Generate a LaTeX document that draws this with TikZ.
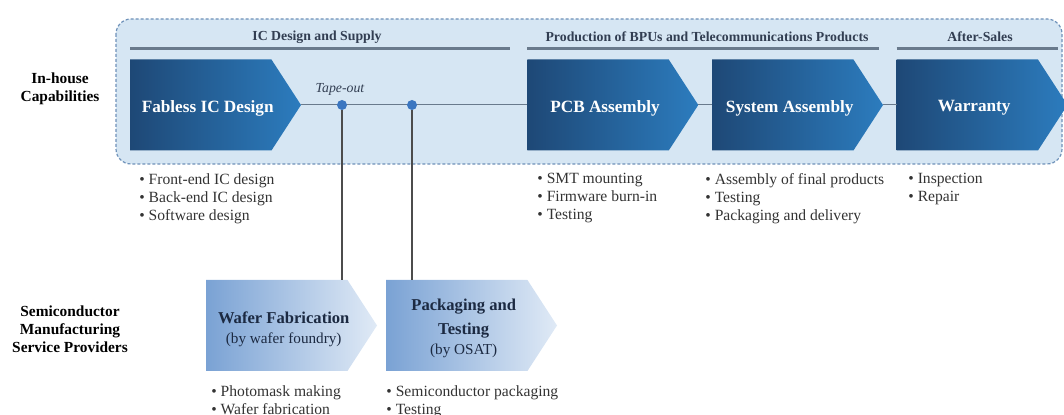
\documentclass[tikz,border=0pt]{standalone}
\usepackage{fontspec}
\setmainfont{Liberation Serif}
\usetikzlibrary{shapes.symbols}
\definecolor{boxfill}{RGB}{214,230,243}
\definecolor{boxline}{RGB}{110,145,185}
\definecolor{navyL}{RGB}{30,72,118}
\definecolor{navyR}{RGB}{44,124,190}
\definecolor{paleL}{RGB}{122,162,212}
\definecolor{paleR}{RGB}{224,234,246}
\definecolor{rule}{RGB}{105,122,140}
\definecolor{hdr}{RGB}{50,62,82}
\definecolor{dotblue}{RGB}{58,118,192}
\definecolor{ink}{RGB}{28,42,66}

\begin{document}
\begin{tikzpicture}[x=0.5pt,y=-0.5pt,
  stage/.style={signal,signal to=east,signal pointer angle=114,minimum width=85.5pt,minimum height=45.5pt,inner sep=0pt,outer sep=0pt,anchor=west},
  inhouse/.style={stage,left color=navyL,right color=navyR},
  vendor/.style={stage,left color=paleL,right color=paleR},
  intext/.style={text=white,font=\fontsize{8.6}{10}\selectfont\bfseries},
  vtext/.style={align=center,text=ink,font=\fontsize{7.6}{9.8}\selectfont},
  phase/.style={text=hdr,font=\fontsize{6.9}{8}\selectfont\bfseries},
  role/.style={align=center,font=\fontsize{7.7}{9}\selectfont\bfseries},
  tasks/.style={anchor=north west,align=left,inner sep=0pt,text=black!80,font=\fontsize{7.8}{9}\selectfont},
  dot/.style={circle,fill=dotblue,inner sep=0pt,minimum size=5pt},
  link/.style={draw=rule,line width=0.5pt},
  drop/.style={draw=black!70,line width=0.9pt}]
\useasboundingbox (0,0) rectangle (1064,415);
\draw[boxline,fill=boxfill,line width=0.6pt,dash pattern=on 1.5pt off 1pt,rounded corners=7.5pt] (116,19) rectangle (1062,164);

\node[phase] (icds) at (317,37) {IC Design and Supply};
\node[phase] (prod) at (707,37) {Production of BPUs and Telecommunications Products};
\node[phase] (after) at (980,37) {After-Sales};
\draw[rule,line width=1.3pt] (130,48.5) -- (509.5,48.5);
\draw[rule,line width=1.3pt] (527.3,48.5) -- (879.3,48.5);
\draw[rule,line width=1.3pt] (896.7,48.5) -- (1058,48.5);

\node[role] (own) at (60,89) {In-house\\Capabilities};
\node[role] (osp) at (70,329) {Semiconductor\\Manufacturing\\Service Providers};

\node[inhouse] (fab) at (130,105) {};
\node[inhouse] (pcb) at (527.3,105) {};
\node[inhouse] (sys) at (712,105) {};
\node[inhouse] (war) at (896.5,105) {};
\node[vendor] (waf) at (206,325.5) {};
\node[vendor] (pkg) at (386,325.5) {};
\node[intext] (fabt) at ([xshift=3.5pt,yshift=-1.5pt]fab.center) {Fabless IC Design};
\node[intext] (pcbt) at ([xshift=3.5pt,yshift=-1.5pt]pcb.center) {PCB Assembly};
\node[intext] (syst) at ([xshift=3.5pt,yshift=-1.5pt]sys.center) {System Assembly};
\node[intext] (wart) at ([xshift=3.5pt,yshift=-1.5pt]war.center) {Warranty};
\node[vtext] (waft) at ([xshift=3.5pt,yshift=-2pt]waf.center) {\textbf{\fontsize{8.3}{9.8}\selectfont Wafer Fabrication}\\(by wafer foundry)};
\node[vtext] (pkgt) at ([xshift=3.5pt,yshift=-1.5pt]pkg.center) {\textbf{\fontsize{8.3}{9.8}\selectfont Packaging and}\\[2.2pt]\textbf{\fontsize{8.3}{9.8}\selectfont Testing}\\(by OSAT)};

\draw[link] (fab.east) -- (pcb.west);
\draw[link] (pcb.east) -- (sys.west);
\draw[link] (sys.east) -- (war.west);
\node[dot] (tape) at (342,105) {};
\node[dot] (pack) at (412,105) {};
\node[text=hdr,font=\fontsize{6.9}{8}\selectfont\itshape] (tapeout) at (340,89) {Tape-out};
\draw[drop] (tape) -- (tape |- waf.north);
\draw[drop] (pack) -- (pack |- pkg.north);

\node[tasks] (fabl) at (139,173) {\textbullet\ Front-end IC design\\\textbullet\ Back-end IC design\\\textbullet\ Software design};
\node[tasks] (pcbl) at (537,173) {\textbullet\ SMT mounting\\\textbullet\ Firmware burn-in\\\textbullet\ Testing};
\node[tasks] (sysl) at (705,173) {\textbullet\ Assembly of final products\\\textbullet\ Testing\\\textbullet\ Packaging and delivery};
\node[tasks] (warl) at (908,173) {\textbullet\ Inspection\\\textbullet\ Repair};
\node[tasks] (wafl) at (211,385) {\textbullet\ Photomask making\\\textbullet\ Wafer fabrication};
\node[tasks] (pkgl) at (386,385) {\textbullet\ Semiconductor packaging\\\textbullet\ Testing};
\end{tikzpicture}
\end{document}
